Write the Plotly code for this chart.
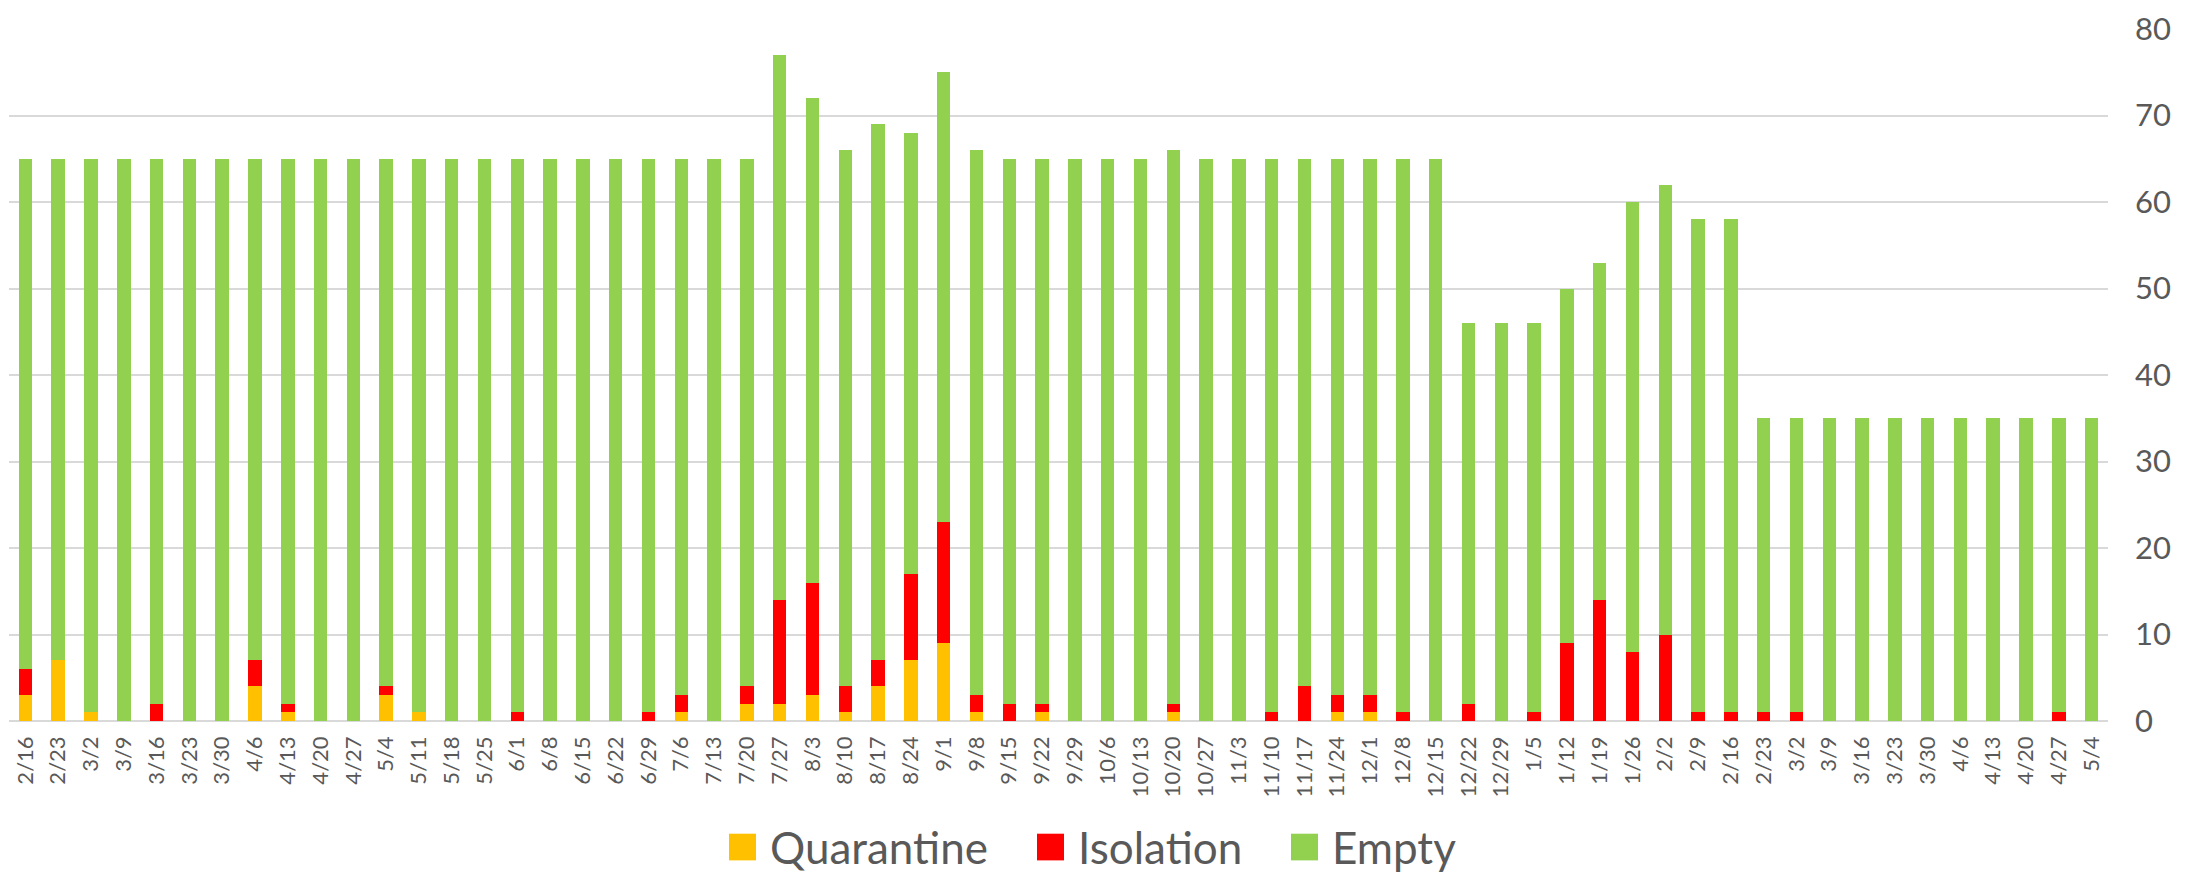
import plotly.graph_objects as go

# Weekly room occupancy
weeks = [
    "2/16", "2/23", "3/2", "3/9", "3/16", "3/23", "3/30", "4/6", "4/13", "4/20",
    "4/27", "5/4", "5/11", "5/18", "5/25", "6/1", "6/8", "6/15", "6/22", "6/29",
    "7/6", "7/13", "7/20", "7/27", "8/3", "8/10", "8/17", "8/24", "9/1", "9/8",
    "9/15", "9/22", "9/29", "10/6", "10/13", "10/20", "10/27", "11/3", "11/10", "11/17",
    "11/24", "12/1", "12/8", "12/15", "12/22", "12/29", "1/5", "1/12", "1/19", "1/26",
    "2/2", "2/9", "2/16", "2/23", "3/2", "3/9", "3/16", "3/23", "3/30", "4/6",
    "4/13", "4/20", "4/27", "5/4",
]

quarantine = [
    3, 7, 1, 0, 0, 0, 0, 4, 1, 0,
    0, 3, 1, 0, 0, 0, 0, 0, 0, 0,
    1, 0, 2, 2, 3, 1, 4, 7, 9, 1,
    0, 1, 0, 0, 0, 1, 0, 0, 0, 0,
    1, 1, 0, 0, 0, 0, 0, 0, 0, 0,
    0, 0, 0, 0, 0, 0, 0, 0, 0, 0,
    0, 0, 0, 0,
]

isolation = [
    3, 0, 0, 0, 2, 0, 0, 3, 1, 0,
    0, 1, 0, 0, 0, 1, 0, 0, 0, 1,
    2, 0, 2, 12, 13, 3, 3, 10, 14, 2,
    2, 1, 0, 0, 0, 1, 0, 0, 1, 4,
    2, 2, 1, 0, 2, 0, 1, 9, 14, 8,
    10, 1, 1, 1, 1, 0, 0, 0, 0, 0,
    0, 0, 1, 0,
]

empty = [
    59, 58, 64, 65, 63, 65, 65, 58, 63, 65,
    65, 61, 64, 65, 65, 64, 65, 65, 65, 64,
    62, 65, 61, 63, 56, 62, 62, 51, 52, 63,
    63, 63, 65, 65, 65, 64, 65, 65, 64, 61,
    62, 62, 64, 65, 44, 46, 45, 41, 39, 52,
    52, 57, 57, 34, 34, 35, 35, 35, 35, 35,
    35, 35, 34, 35,
]

series = [
    ("Quarantine", quarantine, "#FFC000"),
    ("Isolation", isolation, "#FF0000"),
    ("Empty", empty, "#92D050"),
]

FONT = "Lato"
TEXT_COLOR = "#595959"
GRID_COLOR = "#D9D9D9"

W, H = 2203, 872
M_L, M_R, M_T, M_B = 9, 95, 21, 151
plot_w = W - M_L - M_R
plot_h = H - M_T - M_B

x_idx = list(range(len(weeks)))

fig = go.Figure()
for name, values, color in series:
    fig.add_trace(go.Bar(
        x=x_idx,
        y=values,
        name=name,
        marker=dict(color=color, line=dict(width=0)),
        showlegend=False,
    ))


def px_to_paper_x(px):
    return (px - M_L) / plot_w


def px_to_paper_y(py):
    return (H - M_B - py) / plot_h


# Legend drawn beneath the plot: colour swatch followed by its label
legend_items = [
    ("Quarantine", "#FFC000", 729),
    ("Isolation", "#FF0000", 1037),
    ("Empty", "#92D050", 1291),
]
swatch = 27
sw_top = 835
shapes = []
annotations = []
for label, color, left in legend_items:
    shapes.append(dict(
        type="rect", xref="paper", yref="paper",
        x0=px_to_paper_x(left), x1=px_to_paper_x(left + swatch),
        y0=px_to_paper_y(sw_top + swatch), y1=px_to_paper_y(sw_top),
        fillcolor=color, line=dict(width=0), layer="above",
    ))
    annotations.append(dict(
        text=label, xref="paper", yref="paper",
        x=px_to_paper_x(left + swatch + 12), y=px_to_paper_y(sw_top + swatch / 2),
        xanchor="left", yanchor="middle", showarrow=False,
        font=dict(family=FONT, size=44, color=TEXT_COLOR),
    ))

fig.update_layout(
    width=W, height=H,
    margin=dict(l=M_L, r=M_R, t=M_T, b=M_B, pad=0),
    barmode="stack",
    bargap=0.59,
    plot_bgcolor="white",
    paper_bgcolor="white",
    font=dict(family=FONT, color=TEXT_COLOR),
    shapes=shapes,
    annotations=annotations,
    xaxis=dict(
        tickmode="array",
        tickvals=x_idx,
        ticktext=weeks,
        tickangle=-90,
        tickfont=dict(family=FONT, size=22, color=TEXT_COLOR),
        range=[-0.5, len(weeks) - 0.5],
        showgrid=False,
        showline=False,
        zeroline=False,
        ticks="",
        ticklabelstandoff=10,
        fixedrange=True,
    ),
    yaxis=dict(
        side="right",
        range=[0, 80],
        dtick=10,
        tick0=0,
        showgrid=True,
        gridcolor=GRID_COLOR,
        gridwidth=2,
        zeroline=True,
        zerolinecolor=GRID_COLOR,
        zerolinewidth=2,
        showline=False,
        ticks="",
        tickfont=dict(family=FONT, size=31, color=TEXT_COLOR),
        ticklabelstandoff=26,
        fixedrange=True,
    ),
)

fig.write_html("out.html")
